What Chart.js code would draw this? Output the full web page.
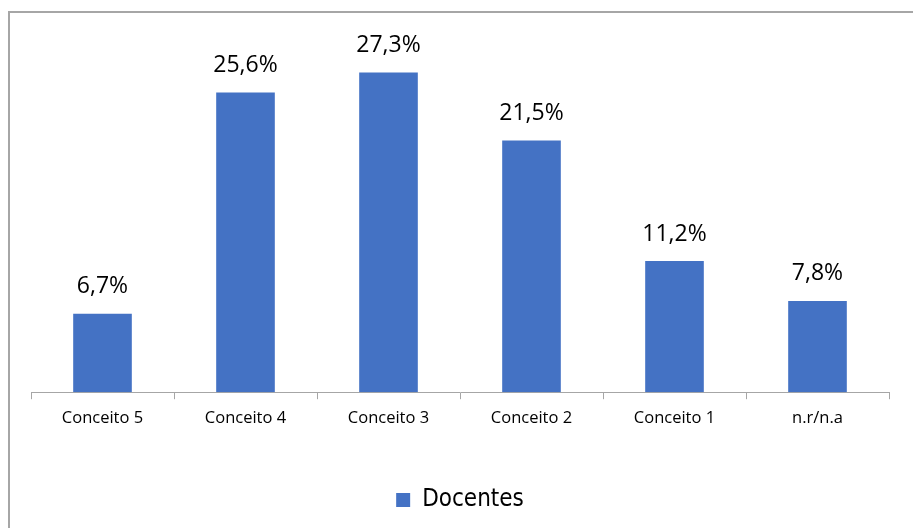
<!DOCTYPE html>
<html>
<head>
<meta charset="utf-8">
<script src="https://cdn.jsdelivr.net/npm/chart.js@4"></script>
<style>
  html, body { margin: 0; padding: 0; background: #fff; overflow: hidden; }
  #frame { position: absolute; left: 8px; top: 11px; width: 920px; height: 530px; border-left: 2px solid #a6a6a6; border-top: 2px solid #a6a6a6; }
  #wrap { position: absolute; left: 0; top: 0; width: 913px; height: 528px; }
</style>
</head>
<body>
<div id="frame"></div>
<div id="wrap"><canvas id="c" width="913" height="528"></canvas></div>
<script>
const categories = ["Conceito 5", "Conceito 4", "Conceito 3", "Conceito 2", "Conceito 1", "n.r/n.a"];
const docentes = [6.7, 25.6, 27.3, 21.5, 11.2, 7.8];
const seriesName = "Docentes";

const labelPlugin = {
  id: 'valueLabels',
  afterDatasetsDraw(chart) {
    const ctx = chart.ctx;
    const meta = chart.getDatasetMeta(0);
    ctx.save();
    ctx.font = '23px "Open Sans", "Liberation Sans", sans-serif';
    ctx.fillStyle = '#000';
    ctx.textAlign = 'center';
    ctx.textBaseline = 'middle';
    meta.data.forEach((bar, i) => {
      const txt = docentes[i].toFixed(1).replace('.', ',') + '%';
      ctx.fillText(txt, bar.x, bar.y - 27);
    });
    ctx.restore();
  }
};

new Chart(document.getElementById('c'), {
  type: 'bar',
  data: {
    labels: categories,
    datasets: [{
      label: seriesName,
      data: docentes,
      backgroundColor: '#4472c4',
      borderWidth: 0,
      barPercentage: 0.41,
      categoryPercentage: 1.0
    }]
  },
  options: {
    responsive: false,
    animation: false,
    layout: { padding: { left: 31, right: 24, top: 41, bottom: 6 } },
    scales: {
      x: {
        afterFit(scale) { scale.height += 22; },
        grid: { display: true, drawOnChartArea: false, offset: true, color: '#a6a6a6', tickLength: 7, lineWidth: 1 },
        border: { display: true, color: '#a6a6a6', width: 1 },
        ticks: { color: '#000', font: { family: '"Open Sans", "Liberation Sans", sans-serif', size: 16.5 }, padding: 9, maxRotation: 0 }
      },
      y: { display: false, min: 0, max: 30 }
    },
    plugins: {
      legend: {
        position: 'bottom',
        labels: {
          boxWidth: 14, boxHeight: 14, color: '#000',
          font: { family: '"DejaVu Sans"', weight: 'condensed', size: 24 },
          padding: 29
        }
      },
      tooltip: { enabled: false }
    }
  },
  plugins: [labelPlugin]
});
</script>
</body>
</html>
